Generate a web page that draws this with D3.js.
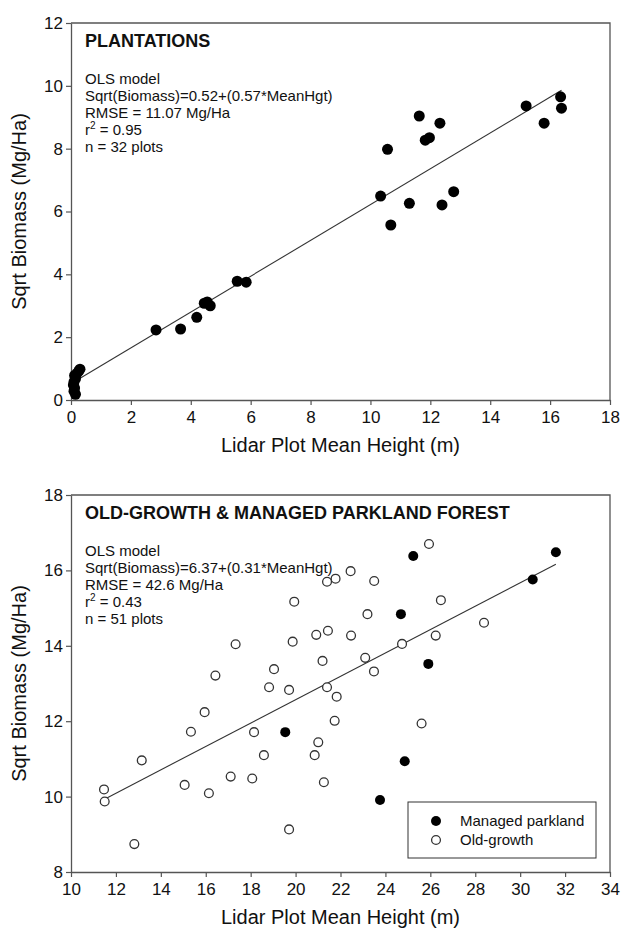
<!DOCTYPE html>
<html>
<head>
<meta charset="utf-8">
<script src="https://cdn.jsdelivr.net/npm/d3@7/dist/d3.min.js"></script>
<style>
  body { margin: 0; background: #fff; }
  text { font-family: Arial, "Liberation Sans", sans-serif; fill: #111; }
</style>
</head>
<body>
<svg id="chart" width="622" height="931"></svg>
<script>
/*global d3*/

// ---- data ----
// plantations
var plantX = [0.15, 0.10, 0.12, 0.08, 0.10, 0.15, 0.12, 0.20, 0.26, 0.30,
              2.84, 3.66, 4.20, 4.45, 4.55, 4.65, 5.55, 5.85,
              10.34, 10.57, 10.68, 11.30, 11.63, 11.83, 11.97, 12.32, 12.39, 12.78,
              15.20, 15.80, 16.35, 16.38];
var plantY = [0.18, 0.28, 0.38, 0.48, 0.58, 0.68, 0.78, 0.85, 0.92, 0.98,
              2.23, 2.26, 2.63, 3.08, 3.12, 3.00, 3.78, 3.75,
              6.49, 7.98, 5.57, 6.26, 9.04, 8.27, 8.35, 8.81, 6.21, 6.63,
              9.36, 8.81, 9.65, 9.29];

// old-growth & managed parkland
var managedX = [19.54, 23.76, 24.86, 24.69, 25.24, 25.91, 30.56, 31.59];
var managedY = [11.71, 9.91, 10.94, 14.84, 16.38, 13.52, 15.76, 16.48];

var oldX = [25.94, 22.45, 21.78, 21.40, 23.50, 26.47, 23.20, 28.39, 21.44, 22.47,
            26.24, 24.74, 23.10, 23.49, 21.40, 21.83, 21.74, 25.61,
            19.94, 17.33, 19.87, 20.92, 21.20, 19.04, 16.43, 18.82, 19.71, 15.95,
            15.34, 18.15, 21.01, 18.59, 20.85, 13.15, 17.11, 18.07, 21.26, 15.06,
            16.14, 11.47, 11.50, 19.71, 12.82];
var oldY = [16.70, 15.98, 15.78, 15.70, 15.72, 15.21, 14.84, 14.61, 14.40, 14.27,
            14.27, 14.05, 13.68, 13.32, 12.90, 12.65, 12.01, 11.94,
            15.17, 14.04, 14.11, 14.29, 13.60, 13.38, 13.21, 12.90, 12.83, 12.24,
            11.72, 11.71, 11.44, 11.10, 11.10, 10.96, 10.53, 10.48, 10.38, 10.31,
            10.09, 10.19, 9.87, 9.13, 8.74];

// fitted models
var plantFit = {a: 0.52, b: 0.57};
var forestFit = {a: 6.37, b: 0.31};

var plantText = ["OLS model", "Sqrt(Biomass)=0.52+(0.57*MeanHgt)", "RMSE = 11.07 Mg/Ha", "r2|0.95", "n = 32 plots"];
var forestText = ["OLS model", "Sqrt(Biomass)=6.37+(0.31*MeanHgt)", "RMSE = 42.6 Mg/Ha", "r2|0.43", "n = 51 plots"];
var legendLabels = ["Managed parkland", "Old-growth"];

var svg = d3.select("#chart");
var axisCol = "#555";

function panel(opt) {
  var x = d3.scaleLinear().domain(opt.xdom).range([71, 610]);
  var y = d3.scaleLinear().domain(opt.ydom).range([opt.bottom, opt.top]);
  var g = svg.append("g");

  // frame (top + right)
  g.append("path")
    .attr("d", "M" + x(opt.xdom[0]) + "," + y(opt.ydom[1]) + "H" + x(opt.xdom[1]) + "V" + y(opt.ydom[0]))
    .attr("fill", "none").attr("stroke", axisCol).attr("stroke-width", 1.3);

  var xMajor = d3.range(opt.xdom[0], opt.xdom[1] + 0.1, 2);
  var xMinor = d3.range(opt.xdom[0] + 1, opt.xdom[1], 2);
  var yMajor = d3.range(opt.ydom[0], opt.ydom[1] + 0.1, 2);
  var yMinor = d3.range(opt.ydom[0] + 1, opt.ydom[1], 2);

  var gx = g.append("g").attr("transform", "translate(0," + opt.bottom + ")");
  gx.call(d3.axisBottom(x).tickValues(xMinor).tickFormat("").tickSize(3).tickSizeOuter(0));
  gx.call(d3.axisBottom(x).tickValues(xMajor).tickSize(5).tickSizeOuter(0));
  var gy = g.append("g").attr("transform", "translate(71,0)");
  gy.call(d3.axisLeft(y).tickValues(yMinor).tickFormat("").tickSize(3).tickSizeOuter(0));
  gy.call(d3.axisLeft(y).tickValues(yMajor).tickSize(5).tickSizeOuter(0));
  g.selectAll(".domain").attr("stroke", axisCol).attr("stroke-width", 1.3);
  g.selectAll(".tick line").attr("stroke", axisCol).attr("stroke-width", 1.2);
  g.selectAll(".tick text").attr("font-size", 17).attr("fill", "#111")
    .attr("font-family", "Arial, 'Liberation Sans', sans-serif");
  gx.selectAll(".tick text").attr("dy", "0.9em");
  gy.selectAll(".tick text").attr("x", -8);

  // axis titles
  g.append("text").attr("x", (71 + 610) / 2).attr("y", opt.bottom + 52)
    .attr("text-anchor", "middle").attr("font-size", 20).text("Lidar Plot Mean Height (m)");
  g.append("text")
    .attr("transform", "translate(26," + ((opt.top + opt.bottom) / 2) + ") rotate(-90)")
    .attr("text-anchor", "middle").attr("font-size", 20).text("Sqrt Biomass (Mg/Ha)");

  // panel title + stats
  g.append("text").attr("x", 85).attr("y", opt.top + 24)
    .attr("font-size", 18).attr("font-weight", "bold").text(opt.title);
  opt.lines.forEach(function(s, i) {
    var t = g.append("text").attr("x", 85).attr("y", opt.top + 61 + i * 17).attr("font-size", 15);
    if (s.indexOf("|") >= 0) {
      t.append("tspan").text("r");
      t.append("tspan").attr("font-size", 10).attr("dy", -6).text("2");
      t.append("tspan").attr("dy", 6).text(" = " + s.split("|")[1]);
    } else {
      t.text(s);
    }
  });

  // regression line
  var lx = d3.extent(opt.fitX);
  g.append("line")
    .attr("x1", x(lx[0])).attr("y1", y(opt.fit.a + opt.fit.b * lx[0]))
    .attr("x2", x(lx[1])).attr("y2", y(opt.fit.a + opt.fit.b * lx[1]))
    .attr("stroke", "#333").attr("stroke-width", 1.1);

  return {g: g, x: x, y: y};
}

// top panel
var p1 = panel({xdom: [0, 18], ydom: [0, 12], top: 23, bottom: 400,
  title: "PLANTATIONS", lines: plantText, fit: plantFit, fitX: plantX});
p1.g.selectAll("circle.pt").data(d3.range(plantX.length)).enter().append("circle")
  .attr("class", "pt")
  .attr("cx", function(i) { return p1.x(plantX[i]); })
  .attr("cy", function(i) { return p1.y(plantY[i]); })
  .attr("r", 5.5).attr("fill", "#000");

// bottom panel
var p2 = panel({xdom: [10, 34], ydom: [8, 18], top: 495, bottom: 872,
  title: "OLD-GROWTH & MANAGED PARKLAND FOREST", lines: forestText, fit: forestFit,
  fitX: oldX.concat(managedX)});
p2.g.selectAll("circle.old").data(d3.range(oldX.length)).enter().append("circle")
  .attr("class", "old")
  .attr("cx", function(i) { return p2.x(oldX[i]); })
  .attr("cy", function(i) { return p2.y(oldY[i]); })
  .attr("r", 4.4).attr("fill", "#fff").attr("stroke", "#333").attr("stroke-width", 1.3);
p2.g.selectAll("circle.man").data(d3.range(managedX.length)).enter().append("circle")
  .attr("class", "man")
  .attr("cx", function(i) { return p2.x(managedX[i]); })
  .attr("cy", function(i) { return p2.y(managedY[i]); })
  .attr("r", 5).attr("fill", "#000");

// legend
var lg = p2.g.append("g").attr("transform", "translate(408,802)");
lg.append("rect").attr("width", 188).attr("height", 56)
  .attr("fill", "#fff").attr("stroke", "#333").attr("stroke-width", 1);
legendLabels.forEach(function(l, i) {
  var cy = 19 + i * 19;
  lg.append("circle").attr("cx", 28).attr("cy", cy).attr("r", i === 0 ? 5 : 4.4)
    .attr("fill", i === 0 ? "#000" : "#fff").attr("stroke", i === 0 ? "none" : "#333")
    .attr("stroke-width", 1.3);
  lg.append("text").attr("x", 52).attr("y", cy + 5).attr("font-size", 15).text(l);
});
</script>
</body>
</html>
